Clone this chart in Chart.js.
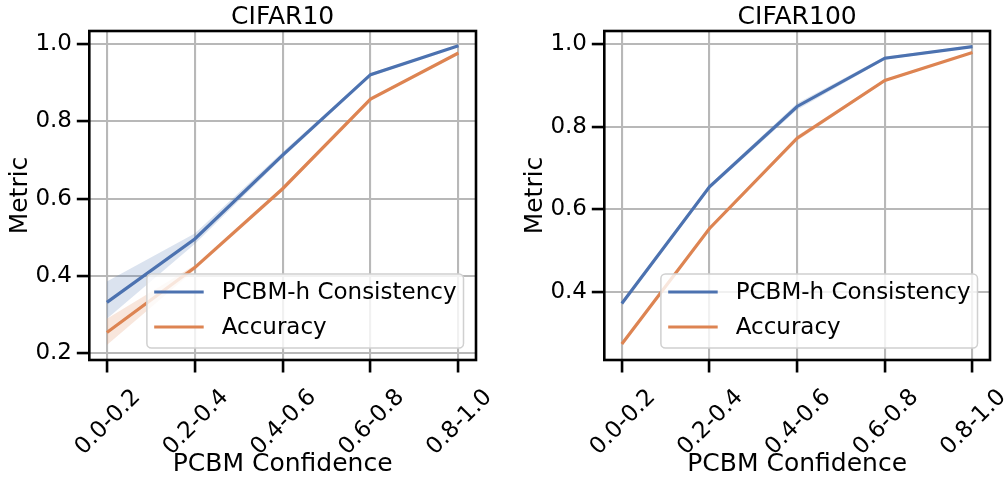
<!DOCTYPE html>
<html>
<head>
<meta charset="utf-8">
<script src="https://cdn.jsdelivr.net/npm/chart.js@4.4.1/dist/chart.umd.min.js"></script>
<style>
  html, body { margin: 0; padding: 0; background: #ffffff; }
  #wrap { position: relative; width: 1004px; height: 477px; overflow: hidden; }
  .panel { position: absolute; top: 0; }
</style>
</head>
<body>
<div id="wrap">
  <div class="panel" style="left:0px;"><canvas id="c10" width="500" height="477"></canvas></div>
  <div class="panel" style="left:500px;"><canvas id="c100" width="504" height="477"></canvas></div>
</div>
<script>
// ---------------- data ----------------
const categories = ['0.0-0.2', '0.2-0.4', '0.4-0.6', '0.6-0.8', '0.8-1.0'];
const yTicks = [0.2, 0.4, 0.6, 0.8, 1.0];

// CIFAR10
const c10Consistency   = [0.332, 0.496, 0.713, 0.921, 0.996];
const c10ConsistencyLo = [0.290, 0.483, 0.706, 0.917, 0.994];
const c10ConsistencyHi = [0.386, 0.510, 0.721, 0.925, 0.998];
const c10Accuracy      = [0.254, 0.422, 0.626, 0.858, 0.977];
const c10AccuracyLo    = [0.222, 0.416, 0.620, 0.854, 0.975];
const c10AccuracyHi    = [0.290, 0.428, 0.632, 0.862, 0.979];

// CIFAR100
const c100Consistency   = [0.371, 0.654, 0.849, 0.966, 0.994];
const c100ConsistencyLo = [0.367, 0.649, 0.841, 0.962, 0.992];
const c100ConsistencyHi = [0.375, 0.659, 0.857, 0.970, 0.996];
const c100Accuracy      = [0.273, 0.553, 0.772, 0.912, 0.980];
const c100AccuracyLo    = [0.270, 0.549, 0.766, 0.909, 0.978];
const c100AccuracyHi    = [0.276, 0.557, 0.778, 0.915, 0.982];

const seriesNames = ['PCBM-h Consistency', 'Accuracy'];

// ---------------- styling ----------------
const FONT = "'DejaVu Sans', 'Liberation Sans', sans-serif";
const BLUE = '#4C72B0';
const ORANGE = '#DD8452';
const BLUE_BAND = 'rgba(76,114,176,0.2)';
const ORANGE_BAND = 'rgba(221,132,82,0.2)';
const GRID = '#b8b8b8';

function pts(arr) { return arr.map((v, i) => ({ x: i, y: v })); }

const framePlugin = {
  id: 'frameAndLegend',
  afterDatasetsDraw(chart) {
    const ctx = chart.ctx;
    const a = chart.chartArea;
    ctx.save();
    // axes box
    ctx.strokeStyle = '#000';
    ctx.lineWidth = 2.6;
    ctx.strokeRect(a.left, a.top, a.right - a.left, a.bottom - a.top);

    // legend inside, lower right
    const fs = 23;
    ctx.font = fs + 'px ' + FONT;
    let tw = 0;
    seriesNames.forEach(n => { tw = Math.max(tw, ctx.measureText(n).width); });
    const pad = 7.3, lineLen = 49.5, gap = 18;
    const w = pad + lineLen + gap + tw + 7;
    const h = 74;
    const x0 = a.right - 12.5 - w;
    const y0 = a.bottom - 12 - h;
    const r = 4.5;
    ctx.beginPath();
    ctx.moveTo(x0 + r, y0);
    ctx.lineTo(x0 + w - r, y0);
    ctx.arcTo(x0 + w, y0, x0 + w, y0 + r, r);
    ctx.lineTo(x0 + w, y0 + h - r);
    ctx.arcTo(x0 + w, y0 + h, x0 + w - r, y0 + h, r);
    ctx.lineTo(x0 + r, y0 + h);
    ctx.arcTo(x0, y0 + h, x0, y0 + h - r, r);
    ctx.lineTo(x0, y0 + r);
    ctx.arcTo(x0, y0, x0 + r, y0, r);
    ctx.closePath();
    ctx.fillStyle = 'rgba(255,255,255,0.8)';
    ctx.fill();
    ctx.strokeStyle = '#d0d0d0';
    ctx.lineWidth = 1.5;
    ctx.stroke();

    const colors = [BLUE, ORANGE];
    const rows = [y0 + 18, y0 + 53];
    seriesNames.forEach((n, i) => {
      ctx.strokeStyle = colors[i];
      ctx.lineWidth = 3.2;
      ctx.beginPath();
      ctx.moveTo(x0 + pad, rows[i]);
      ctx.lineTo(x0 + pad + lineLen, rows[i]);
      ctx.stroke();
      ctx.fillStyle = '#000';
      ctx.textAlign = 'left';
      ctx.textBaseline = 'middle';
      ctx.fillText(n, x0 + pad + lineLen + gap, rows[i] + 1);
    });
    ctx.restore();
  }
};

function makeChart(canvasId, title, cons, consLo, consHi, acc, accLo, accHi, yMin, yMax, yAxisWidth, rightPad, yTitlePad) {
  const ctx = document.getElementById(canvasId).getContext('2d');
  return new Chart(ctx, {
    type: 'line',
    data: {
      datasets: [
        { label: seriesNames[1], data: pts(acc), borderColor: ORANGE, borderWidth: 3.2, pointRadius: 0, tension: 0, fill: false },
        { label: seriesNames[0], data: pts(cons), borderColor: BLUE, borderWidth: 3.2, pointRadius: 0, tension: 0, fill: false },
        { label: 'accHi', data: pts(accHi), borderWidth: 0, borderColor: 'rgba(0,0,0,0)', backgroundColor: ORANGE_BAND, pointRadius: 0, tension: 0, fill: '+1' },
        { label: 'accLo', data: pts(accLo), borderWidth: 0, borderColor: 'rgba(0,0,0,0)', pointRadius: 0, tension: 0, fill: false },
        { label: 'consHi', data: pts(consHi), borderWidth: 0, borderColor: 'rgba(0,0,0,0)', backgroundColor: BLUE_BAND, pointRadius: 0, tension: 0, fill: '+1' },
        { label: 'consLo', data: pts(consLo), borderWidth: 0, borderColor: 'rgba(0,0,0,0)', pointRadius: 0, tension: 0, fill: false }
      ]
    },
    options: {
      responsive: false,
      animation: false,
      devicePixelRatio: 1,
      layout: { padding: { left: 0, right: rightPad, top: 0, bottom: 0 } },
      plugins: {
        legend: { display: false },
        tooltip: { enabled: false },
        title: {
          display: true,
          text: title,
          color: '#000',
          font: { family: FONT, size: 25, weight: 'normal', lineHeight: 1.2 },
          padding: { top: 2.5, bottom: -1.5 },
          fullSize: false
        }
      },
      scales: {
        x: {
          type: 'linear',
          min: -0.2,
          max: 4.2,
          afterFit(scale) { scale.height = 117; },
          ticks: {
            stepSize: 1,
            includeBounds: false,
            autoSkip: false,
            minRotation: 45,
            maxRotation: 45,
            labelOffset: 30,
            padding: 13,
            color: '#000',
            font: { family: FONT, size: 23, lineHeight: 1.0 },
            callback: (v) => categories[Math.round(v)] !== undefined && Math.abs(v - Math.round(v)) < 1e-6 ? categories[Math.round(v)] : ''
          },
          grid: { color: GRID, lineWidth: 2.1, tickColor: '#000', tickWidth: 2.6, tickLength: 12.5, drawTicks: true },
          border: { display: false },
          title: {
            display: true,
            text: 'PCBM Confidence',
            color: '#000',
            font: { family: FONT, size: 25, lineHeight: 1 },
            padding: { top: 0, bottom: 0.5 }
          }
        },
        y: {
          type: 'linear',
          min: yMin,
          max: yMax,
          afterFit(scale) { scale.width = yAxisWidth; },
          ticks: {
            stepSize: 0.2,
            includeBounds: false,
            padding: 4.8,
            color: '#000',
            font: { family: FONT, size: 23 },
            callback: (v) => yTicks.some(t => Math.abs(t - v) < 1e-6) ? Number(v).toFixed(1) : ''
          },
          grid: { color: GRID, lineWidth: 2.1, tickColor: '#000', tickWidth: 2.6, tickLength: 12.5, drawTicks: true },
          border: { display: false },
          title: {
            display: true,
            text: 'Metric',
            color: '#000',
            font: { family: FONT, size: 25, lineHeight: 1.2 },
            padding: { top: yTitlePad, bottom: 0 }
          }
        }
      }
    },
    plugins: [framePlugin]
  });
}

makeChart('c10', 'CIFAR10', c10Consistency, c10ConsistencyLo, c10ConsistencyHi,
  c10Accuracy, c10AccuracyLo, c10AccuracyHi, 0.183, 1.034, 89.3, 24, 5);
makeChart('c100', 'CIFAR100', c100Consistency, c100ConsistencyLo, c100ConsistencyHi,
  c100Accuracy, c100AccuracyLo, c100AccuracyHi, 0.234, 1.032, 104.3, 14, 20);
</script>
</body>
</html>
